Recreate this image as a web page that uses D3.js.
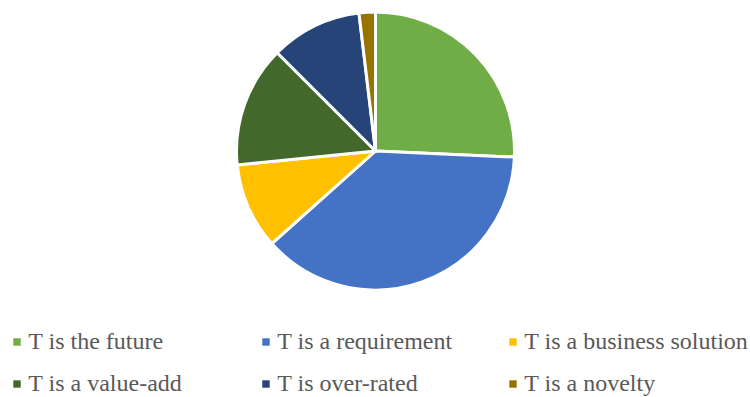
<!DOCTYPE html>
<html>
<head>
<meta charset="utf-8">
<script src="https://cdn.jsdelivr.net/npm/d3@7"></script>
<style>
  html, body { margin: 0; padding: 0; background: #fff; font-family: "Liberation Serif", Tinos, serif; }
  svg { display: block; font-family: "Liberation Serif", Tinos, serif; }
  svg text { font-family: "Liberation Serif", Tinos, serif !important; }
</style>
</head>
<body>
<svg id="chart" width="750" height="397" font-family="Liberation Serif"></svg>
<script>
// Share of respondents per opinion (percent)
const categories = [
  "T is the future",
  "T is a requirement",
  "T is a business solution",
  "T is a value-add",
  "T is over-rated",
  "T is a novelty"
];
const values = [25.7, 37.7, 10.0, 14.1, 10.6, 1.9];
const colors = ["#70AD47", "#4472C4", "#FFC000", "#43682B", "#264478", "#997300"];

const svg = d3.select("#chart");
const cx = 375.5, cy = 151, radius = 139;

const data = categories.map((c, i) => ({ name: c, value: values[i], color: colors[i] }));

const pie = d3.pie().sort(null).value(d => d.value);
const arc = d3.arc().innerRadius(0).outerRadius(radius);

svg.append("g")
  .attr("transform", `translate(${cx},${cy})`)
  .selectAll("path")
  .data(pie(data))
  .join("path")
  .attr("d", arc)
  .attr("fill", d => d.data.color)
  .attr("stroke", "#fff")
  .attr("stroke-width", 3)
  .attr("stroke-linejoin", "round");

// Legend: three columns, two rows
const colX = [13.3, 262.3, 509.3];
const rowY = [349, 391];
const legend = svg.append("g")
  .attr("font-family", "Liberation Serif")
  .style("font-family", '"Liberation Serif", Tinos, serif');

legend.selectAll("rect")
  .data(data)
  .join("rect")
  .attr("x", (d, i) => colX[i % 3])
  .attr("y", (d, i) => rowY[Math.floor(i / 3)] - 10.7)
  .attr("width", 7.4)
  .attr("height", 7.4)
  .attr("fill", d => d.color);

legend.selectAll("text")
  .data(data)
  .join("text")
  .attr("x", (d, i) => colX[i % 3] + 15)
  .attr("y", (d, i) => rowY[Math.floor(i / 3)])
  .attr("font-size", 24)
  .attr("fill", "#595959")
  .text(d => d.name);
</script>
</body>
</html>
